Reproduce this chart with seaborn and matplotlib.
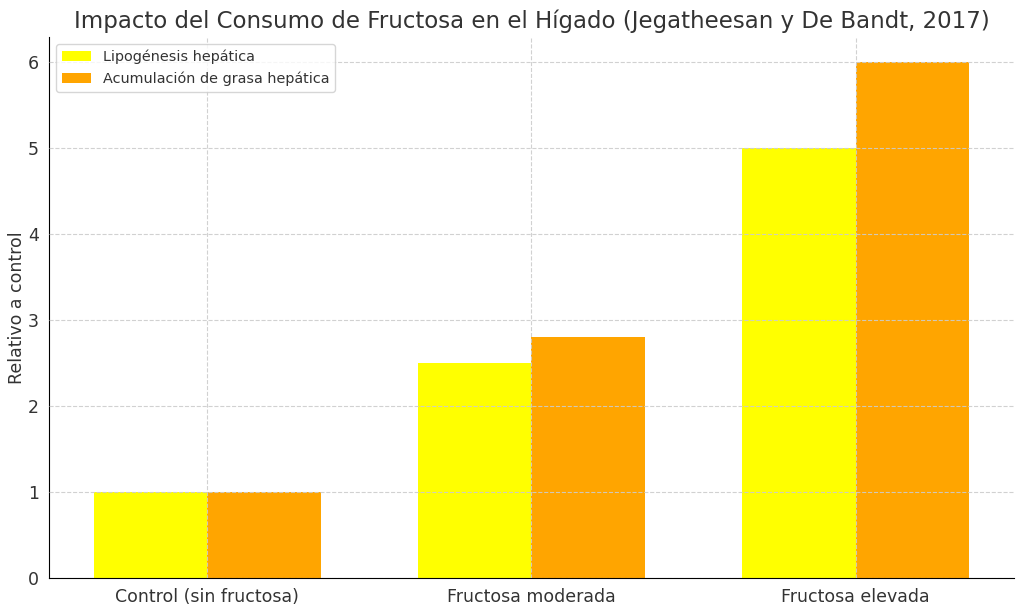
import pandas as pd
import matplotlib.pyplot as plt
import seaborn as sns

# valores
categorias = ['Control (sin fructosa)', 'Fructosa moderada', 'Fructosa elevada']
lipogenesis = [1.0, 2.5, 5.0]
grasa = [1.0, 2.8, 6.0]
series = ['Lipogénesis hepática', 'Acumulación de grasa hepática']
colores = ['#ffff00', '#ffa500']

df = pd.DataFrame({
    'categoria': categorias * 2,
    'valor': lipogenesis + grasa,
    'serie': [series[0]] * 3 + [series[1]] * 3,
})

sns.set_style('white')
plt.rcParams['font.family'] = ['DejaVu Sans']
plt.rcParams['text.color'] = '#333333'

fig, ax = plt.subplots(figsize=(10.24, 6.11), dpi=100)

sns.barplot(data=df, x='categoria', y='valor', hue='serie', palette=colores,
            width=0.7, saturation=1, ax=ax, errorbar=None, linewidth=0)

ax.set_xlim(-0.4875, 2.4875)
ax.set_ylim(0, 6.3)
ax.set_axisbelow(False)
ax.grid(True, linestyle='--', color='#cccccc', linewidth=0.8, alpha=0.9)
for s in ['top', 'right']:
    ax.spines[s].set_visible(False)
for s in ['left', 'bottom']:
    ax.spines[s].set_color('black')
ax.tick_params(axis='both', which='both', length=4, labelsize=12.5, colors='#333333')
ax.tick_params(axis='both', color='black')

ax.set_title('Impacto del Consumo de Fructosa en el Hígado (Jegatheesan y De Bandt, 2017)',
             fontsize=16.5, color='#333333')
ax.set_xlabel('')
ax.set_ylabel('Relativo a control', fontsize=12.5, color='#333333', labelpad=1.5)
ax.legend(loc='upper left', fontsize=10.4, frameon=True, title=None)

plt.subplots_adjust(left=0.048, right=0.99, top=0.94, bottom=0.054)
plt.savefig('out.png', dpi=100)
